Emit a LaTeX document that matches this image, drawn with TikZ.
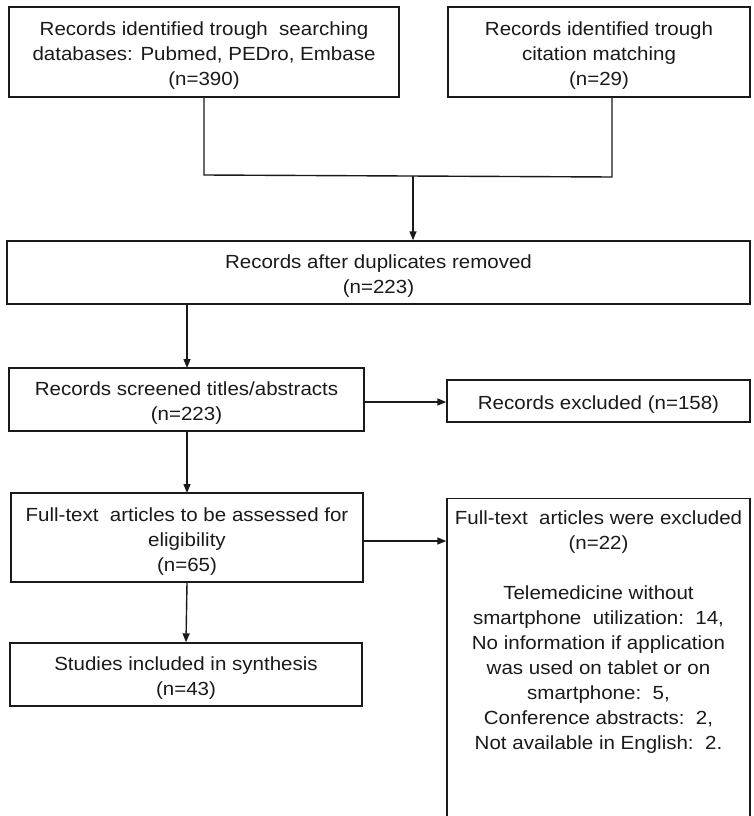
\documentclass[tikz,border=0pt]{standalone}
\usepackage{fontspec}
\setmainfont{Liberation Sans}[FakeStretch=1.08]
\usetikzlibrary{arrows.meta}
\definecolor{ink}{HTML}{1A1A1A}
\tikzset{
  stagebox/.style={draw=ink, line width=1.4pt, rectangle, inner sep=0pt},
  txt/.style={inner sep=0pt, align=center, text=ink, font=\fontsize{19}{25}\selectfont},
  boxtext/.style={label={[txt, yshift=-4pt]center:{#1}}},
  link/.style={draw=ink, line width=1.4pt},
  arr/.style={link, -{Triangle[length=9pt,width=7pt]}}
}
\begin{document}
\begin{tikzpicture}[x=1pt,y=-1pt]
\clip (0,0) rectangle (753,816);
\fill[white] (0,0) rectangle (753,816);
% boxes
\node[stagebox, minimum width=390pt, minimum height=90pt,
  boxtext={Records identified trough\ \ searching\\databases: Pubmed, PEDro, Embase\\(n=390)}] (b1) at (204,52) {};
\node[stagebox, minimum width=302pt, minimum height=90pt,
  boxtext={Records identified trough\\citation matching\\(n=29)}] (b2) at (599,52) {};
\node[stagebox, minimum width=743pt, minimum height=63pt,
  boxtext={Records after duplicates removed\\(n=223)}] (b3) at (378.5,272.5) {};
\node[stagebox, minimum width=355pt, minimum height=63pt,
  boxtext={Records screened titles/abstracts\\(n=223)}] (b4) at (186.5,399.5) {};
\node[stagebox, minimum width=303pt, minimum height=42pt,
  boxtext={Records excluded (n=158)}] (b5) at (598.5,401) {};
\node[stagebox, minimum width=352pt, minimum height=89pt,
  boxtext={Full-text\ \ articles to be assessed for\\eligibility\\(n=65)}] (b6) at (187,537.5) {};
\node[stagebox, minimum width=303pt, minimum height=340pt, anchor=north] (b7) at (598.5,498) {};
\node[txt, anchor=north] (b7t) at (598.5,511)
  {Full-text\ \ articles were excluded\\(n=22)\\[25pt]Telemedicine without\\smartphone\ \ utilization:\ \ 14,\\No information if application\\was used on tablet or on\\smartphone:\ \ 5,\\Conference abstracts:\ \ 2,\\Not available in English:\ \ 2.};
\node[stagebox, minimum width=352pt, minimum height=63pt,
  boxtext={Studies included in synthesis\\(n=43)}] (b8) at (186,674.5) {};
% merge connector
\coordinate (jl) at (204,175);
\coordinate (jr) at (612,177);
\coordinate (jm) at (413,176);
\draw[link] (b1.south) -- (jl) -- (jr) -- (jr |- b2.south);
\draw[arr] (jm) -- (jm |- b3.north);
% flow
\draw[arr] (187,304) -- (187,368);
\draw[arr] (b4.east |- 0,402) -- (b5.west |- 0,402);
\draw[arr] (187,431) -- (187,493);
\draw[arr] (b6.east |- 0,541) -- (b7.west |- 0,541);
\draw[arr] (b6.south) -- (b8.north);
\end{tikzpicture}
\end{document}
